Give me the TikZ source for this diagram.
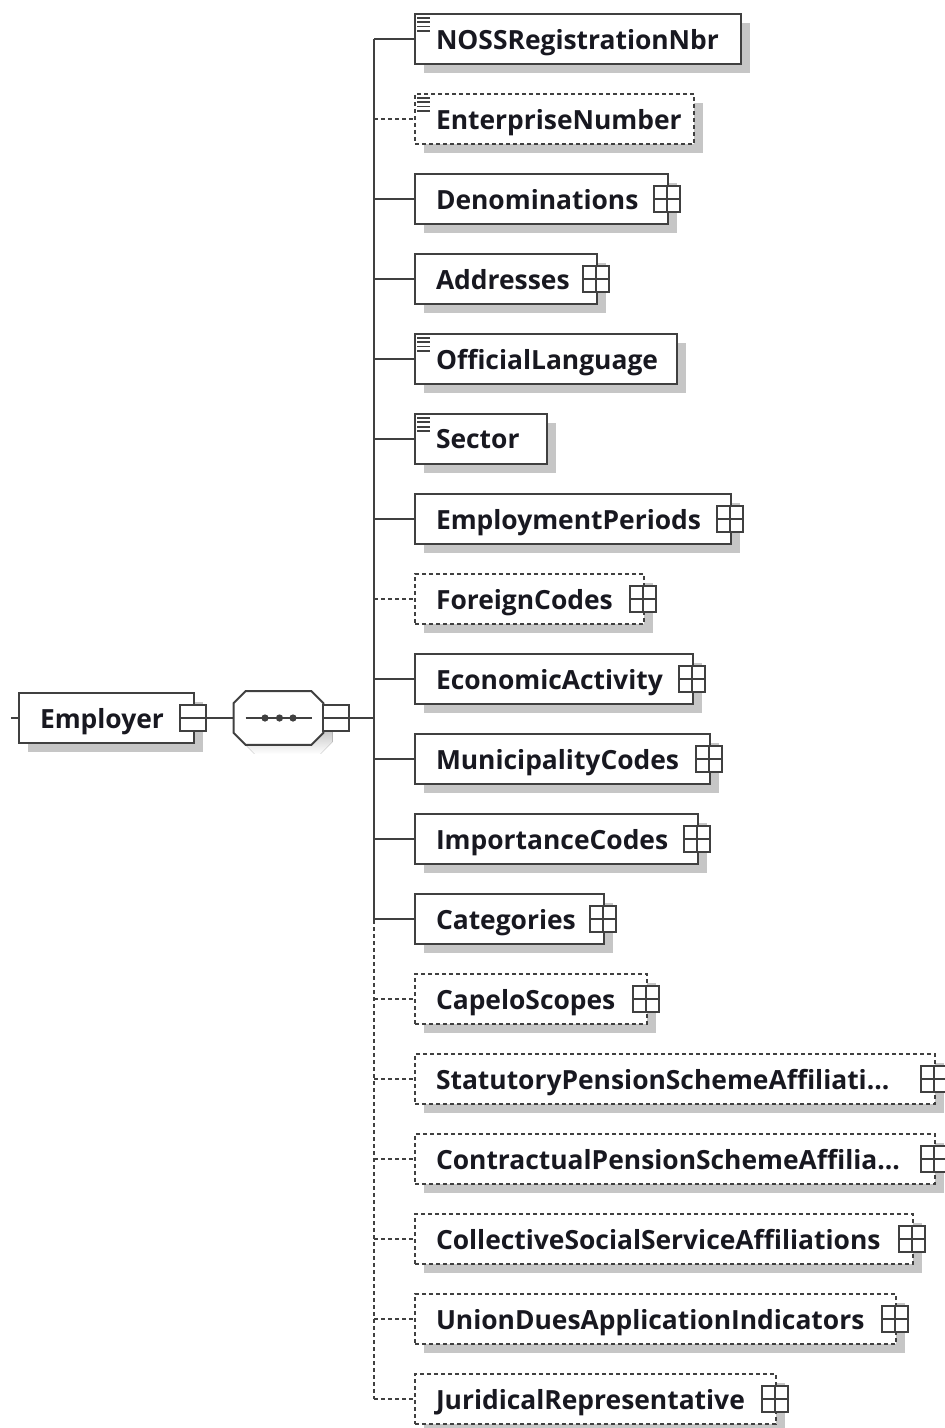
\documentclass[tikz,border=0pt]{standalone}
\usepackage{fontspec}
\setmainfont{Open Sans}
\usepackage{tikz}
\usetikzlibrary{shadows}
\definecolor{edge}{RGB}{64,64,64}
\definecolor{shade}{RGB}{198,198,198}
\definecolor{ink}{RGB}{24,24,32}
\newcommand{\cutmark}{...}
% octagon round a node: #1 node, #2 #3 offsets
\newcommand{\octagon}[3]{
    ([xshift=#2+6pt,yshift=#3]#1.north west) -- ([xshift=#2-6pt,yshift=#3]#1.north east)
    -- ([xshift=#2,yshift=#3-6pt]#1.north east) -- ([xshift=#2,yshift=#3+6pt]#1.south east)
    -- ([xshift=#2-6pt,yshift=#3]#1.south east) -- ([xshift=#2+6pt,yshift=#3]#1.south west)
    -- ([xshift=#2,yshift=#3+6pt]#1.south west) -- ([xshift=#2,yshift=#3-6pt]#1.north west)
    -- cycle}
\tikzset{
  schema/.style={
    link/.style={draw=edge, line width=1pt},
    optional/.style={dash pattern=on 2pt off 1.5pt},
    boxshadow/.style={drop shadow={shadow xshift=4.5pt, shadow yshift=-4.5pt, fill=shade, opacity=1}},
    elem/.style={draw=edge, line width=1pt, fill=white, anchor=west,
      minimum height=25pt, inner xsep=10.5pt, inner ysep=0pt, align=left,
      text depth=0pt, text=ink, font={\bfseries\fontsize{13.2}{16}\selectfont}, boxshadow},
    toggle/.style={draw=edge, line width=1pt, fill=white, minimum size=13pt, inner sep=0pt},
    plusbox/.style={toggle, path picture={
        \draw[edge, line width=0.8pt]
          (path picture bounding box.north) -- (path picture bounding box.south)
          (path picture bounding box.west) -- (path picture bounding box.east);}},
    minusbox/.style={toggle, path picture={
        \draw[edge, line width=0.8pt]
          (path picture bounding box.west) -- (path picture bounding box.east);}},
    seqbox/.style={rectangle, inner sep=0pt, minimum width=44.5pt, minimum height=26.5pt},
    typemark/.style={draw=edge, line width=0.9pt},
  }
}

\begin{document}
\begin{tikzpicture}[schema, x=0.5pt, y=-0.5pt]
    \useasboundingbox (0,0) rectangle (945,1428);

    % parent element and sequence
    \node[elem, text width=66.5pt] (employer) at (18,718) {Employer};
    \node[minusbox] (employer-minus) at ([xshift=-1.25pt]employer.east) {};
    \node[seqbox] (seq) at (278.5,718) {};
    \fill[shade] \octagon{seq}{4.5pt}{-4.5pt};
    \filldraw[link, fill=white] \octagon{seq}{0pt}{0pt};
    \draw[link] ([xshift=6pt]seq.west) -- ([xshift=-5.5pt]seq.east);
    \foreach \dx in {-6.75,0.5,7.25}
        \fill[edge] ([xshift=\dx pt]seq.center) circle (1.8pt);
    \node[minusbox] (seq-minus) at (335.5,718) {};
    \coordinate (stub) at (11,718);
    \draw[link] (stub) -- (employer.west);
    \draw[link] (employer-minus.east) -- (seq.west);

    % trunk
    \coordinate (trunktop) at (374,39);
    \coordinate (trunkmid) at (374,920);
    \coordinate (trunkbot) at (374,1399);
    \draw[link] (seq-minus.east) -- (seq-minus.east -| trunktop);
    \draw[link] (trunktop) -- (trunkmid);
    \draw[link, optional] (trunkmid) -- (trunkbot);

    % children
    \foreach \nm/\lbl/\w/\opt [count=\i from 0] in {
        noss/NOSSRegistrationNbr/326/solid,
        enterprise/EnterpriseNumber/279/optional,
        denom/Denominations/253/solid,
        addr/Addresses/182/solid,
        language/OfficialLanguage/262/solid,
        sector/Sector/132/solid,
        periods/EmploymentPeriods/316/solid,
        foreign/ForeignCodes/229/optional,
        activity/EconomicActivity/278/solid,
        municipality/MunicipalityCodes/295/solid,
        importance/ImportanceCodes/283/solid,
        categories/Categories/189/solid,
        capelo/CapeloScopes/232/optional,
        statutory/StatutoryPensionSchemeAffiliati\cutmark/520/optional,
        contractual/ContractualPensionSchemeAffilia\cutmark/520/optional,
        collective/CollectiveSocialServiceAffiliations/498/optional,
        union/UnionDuesApplicationIndicators/481/optional,
        juridical/JuridicalRepresentative/361/optional}
    {
        \pgfmathsetmacro{\tw}{\w/2-21}
        \node[elem, \opt, text width=\tw pt] (\nm) at (414,39+80*\i) {\lbl};
        \draw[link, \opt] (\nm.west -| trunktop) -- (\nm.west);
    }

    % expand boxes
    \foreach \nm in {denom,addr,periods,foreign,activity,municipality,importance,
        categories,capelo,statutory,contractual,collective,union,juridical}
        \node[plusbox] (\nm-plus) at ([xshift=-1pt]\nm.east) {};

    % simple type marks
    \foreach \nm in {noss,enterprise,language,sector}
        \foreach \dy in {2.4,4.6,6.8,9}
            \draw[typemark] ([xshift=1.6pt,yshift=-\dy pt]\nm.north west) -- ++(6.5pt,0);
\end{tikzpicture}
\end{document}
